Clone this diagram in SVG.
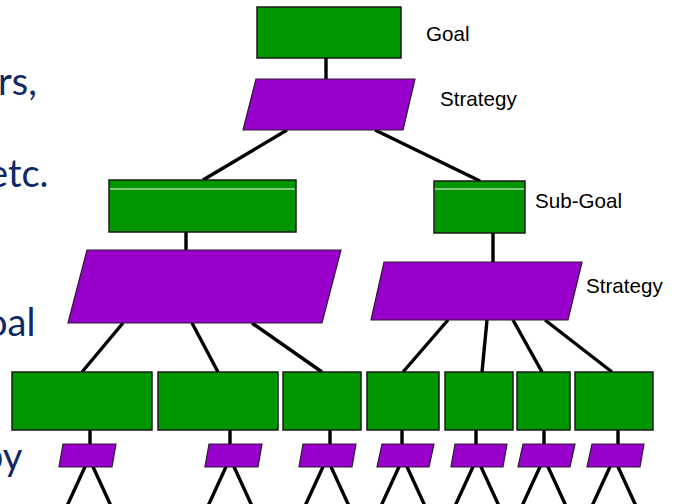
<svg xmlns="http://www.w3.org/2000/svg" width="675" height="504" viewBox="0 0 675 504">
  <style>
    .goal { fill: #009600; stroke: #1a1a1a; stroke-width: 1.5; }
    .strat { fill: #9900cc; stroke: #2a1a30; stroke-width: 1.2; }
    .sep { stroke: #ffffff; stroke-width: 1.2; }
    .link { stroke: #000000; stroke-width: 3.4; stroke-linecap: butt; fill: none; }
    .label { font-family: "Liberation Sans", Arial, sans-serif; font-size: 20.6px; fill: #000000; }
    .slide { font-family: Lato, "Open Sans", sans-serif; font-size: 38px; fill: #0f2a66; }
  </style>
  <rect width="675" height="504" fill="#ffffff"/>

  <!-- slide body text, clipped by the left edge -->
  <g id="slide-text">
    <text class="slide" x="-2" y="95">rs,</text>
    <text class="slide" x="-12" y="187">etc.</text>
    <text class="slide" x="-14" y="336">oal</text>
    <text class="slide" x="-18" y="470">by</text>
  </g>

  <!-- connectors -->
  <g id="connectors">
    <line class="link" x1="326" y1="58" x2="326" y2="79"/>
    <line class="link" x1="287" y1="130" x2="203" y2="180"/>
    <line class="link" x1="375" y1="130" x2="480" y2="181"/>
    <line class="link" x1="186" y1="232" x2="186" y2="250"/>
    <line class="link" x1="493" y1="233" x2="493" y2="262"/>
    <line class="link" x1="123" y1="323" x2="82" y2="372"/>
    <line class="link" x1="192" y1="323" x2="218" y2="372"/>
    <line class="link" x1="252" y1="323" x2="322" y2="372"/>
    <line class="link" x1="448" y1="320" x2="403" y2="372"/>
    <line class="link" x1="487" y1="320" x2="482" y2="372"/>
    <line class="link" x1="513" y1="320" x2="542" y2="372"/>
    <line class="link" x1="545" y1="320" x2="612" y2="372"/>
    <line class="link" x1="90" y1="430" x2="90" y2="444"/>
    <line class="link" x1="230" y1="430" x2="230" y2="444"/>
    <line class="link" x1="330" y1="430" x2="330" y2="444"/>
    <line class="link" x1="402" y1="430" x2="402" y2="444"/>
    <line class="link" x1="476" y1="430" x2="476" y2="444"/>
    <line class="link" x1="544" y1="430" x2="544" y2="444"/>
    <line class="link" x1="618" y1="430" x2="618" y2="444"/>
    <path class="link" d="M67,506 L89,458 L111,506"/>
    <path class="link" d="M208,506 L230,458 L252,506"/>
    <path class="link" d="M305,506 L327,458 L349,506"/>
    <path class="link" d="M381,506 L403,458 L425,506"/>
    <path class="link" d="M455,506 L477,458 L499,506"/>
    <path class="link" d="M522,506 L544,458 L566,506"/>
    <path class="link" d="M592,506 L614,458 L636,506"/>
  </g>

  <g id="goal">
    <rect class="goal" x="257" y="7" width="144" height="51"/>
    <text class="label" x="426" y="41">Goal</text>
  </g>
  <g id="strategy">
    <polygon class="strat" points="256,79 415,79 403,130 243,130"/>
    <text class="label" x="440" y="106">Strategy</text>
  </g>

  <g id="subgoal-left">
    <rect class="goal" x="109" y="180" width="187" height="52"/>
    <line class="sep" x1="110" y1="189" x2="295" y2="189"/>
  </g>
  <g id="strategy-left">
    <polygon class="strat" points="87,250 341,250 322,323 68,323"/>
  </g>

  <g id="subgoal-right">
    <rect class="goal" x="434" y="181" width="91" height="52"/>
    <line class="sep" x1="435" y1="189" x2="524" y2="189"/>
    <text class="label" x="535" y="208">Sub-Goal</text>
  </g>
  <g id="strategy-right">
    <polygon class="strat" points="384,262 582,262 568,320 371,320"/>
    <text class="label" x="586" y="293">Strategy</text>
  </g>

  <g id="goal-1"><rect class="goal" x="12" y="372" width="140" height="58"/></g>
  <g id="goal-2"><rect class="goal" x="158" y="372" width="120" height="58"/></g>
  <g id="goal-3"><rect class="goal" x="283" y="372" width="78" height="58"/></g>
  <g id="goal-4"><rect class="goal" x="367" y="372" width="72" height="58"/></g>
  <g id="goal-5"><rect class="goal" x="445" y="372" width="68" height="58"/></g>
  <g id="goal-6"><rect class="goal" x="517" y="372" width="53" height="58"/></g>
  <g id="goal-7"><rect class="goal" x="575" y="372" width="78" height="58"/></g>

  <g id="strategy-1"><polygon class="strat" points="63,444 116,444 112,467 59,467"/></g>
  <g id="strategy-2"><polygon class="strat" points="209,444 262,444 258,467 205,467"/></g>
  <g id="strategy-3"><polygon class="strat" points="303,444 356,444 352,467 299,467"/></g>
  <g id="strategy-4"><polygon class="strat" points="382,444 434,444 429,467 377,467"/></g>
  <g id="strategy-5"><polygon class="strat" points="455,444 507,444 503,467 451,467"/></g>
  <g id="strategy-6"><polygon class="strat" points="523,444 575,444 570,467 518,467"/></g>
  <g id="strategy-7"><polygon class="strat" points="592,444 644,444 640,467 587,467"/></g>
</svg>
